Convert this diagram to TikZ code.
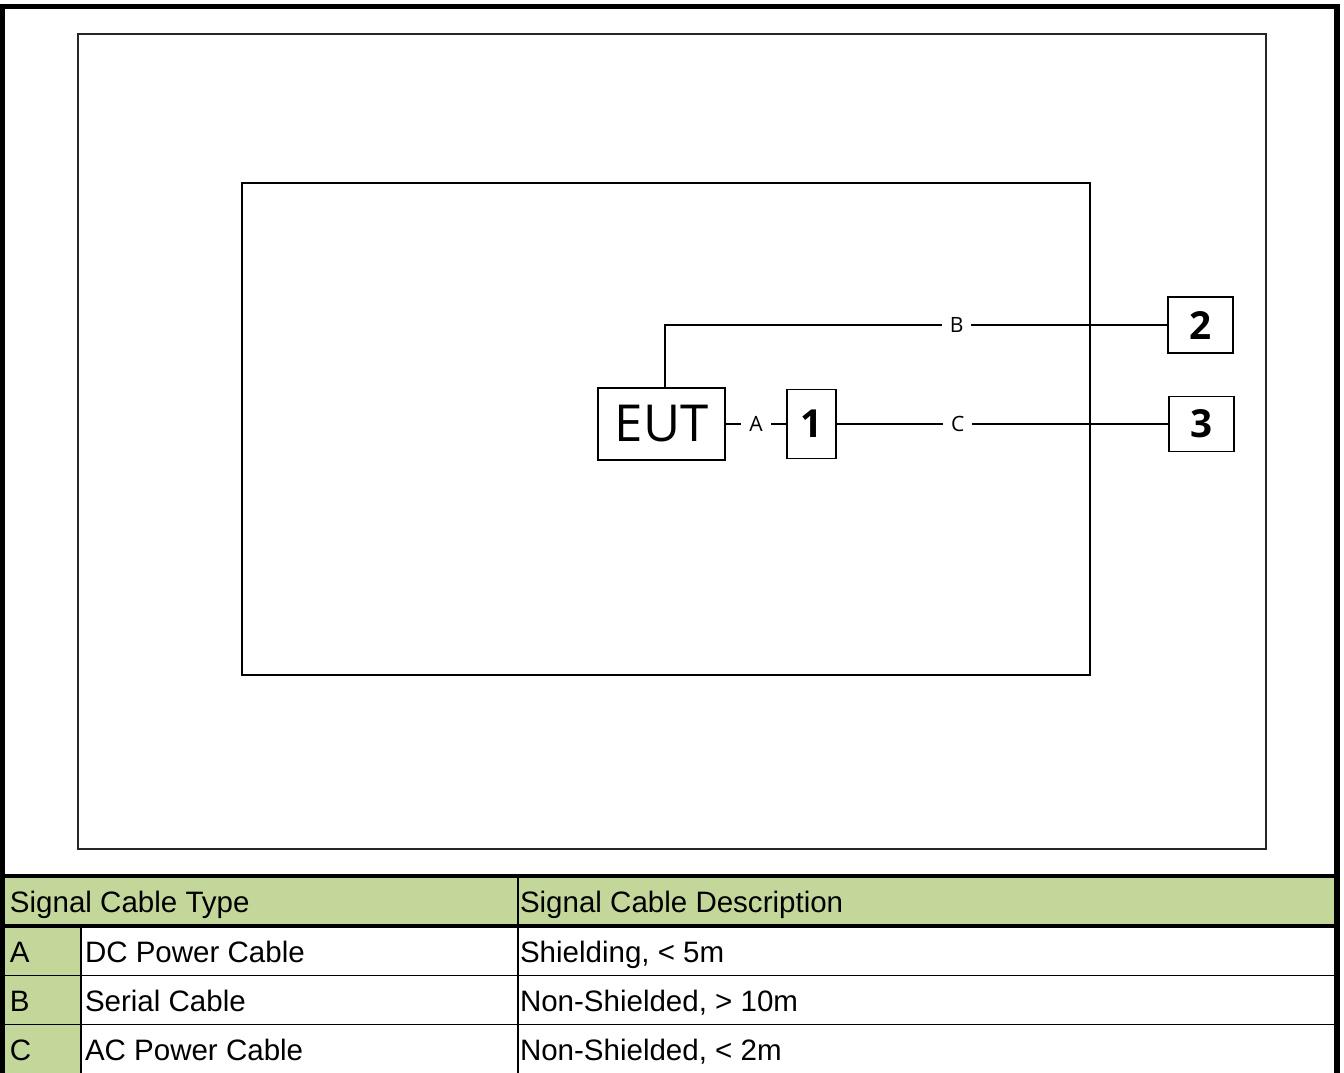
\documentclass[tikz,border=0pt]{standalone}
\usepackage{fontspec}
\setmainfont{Liberation Sans}
\newfontfamily\diagfont{Open Sans}
\usepackage{xcolor}
\usepackage{tikz}
\usetikzlibrary{arrows.meta}

\definecolor{hdrgreen}{HTML}{C4D79B}

\begin{document}
\begin{tikzpicture}[x=0.02cm, y=-0.02cm,
    every node/.style={inner sep=0pt, outer sep=0pt},
    devbox/.style={draw, line width=0.8pt, fill=white,
      font=\diagfont\fontsize{22}{26}\selectfont\bfseries},
    cablelbl/.style={fill=white, inner xsep=4.5pt,
      font=\diagfont\fontsize{12}{14}\selectfont},
    cell/.style={anchor=base west, font=\fontsize{16.8}{20}\selectfont}]
  \useasboundingbox (0,0) rectangle (1344,1072);

  % table fills
  \fill[hdrgreen] (4,876) rectangle (1336,926);
  \fill[hdrgreen] (4,926) rectangle (81,1080);

  % outer frame, test site, room
  \draw[line width=3.4pt] (2.5,1080) -- (2.5,6.5) -- (1336.5,6.5) -- (1336.5,1080);
  \draw[line width=0.8pt, black!85] (78,34) rectangle (1266,849);
  \draw[line width=0.7pt] (242,183) rectangle (1090,675);

  % equipment
  \node[devbox, minimum width=2.54cm, minimum height=1.44cm,
        font=\diagfont\fontsize{29}{34}\selectfont] (eut) at (661.5,424) {EUT};
  \node[devbox, minimum width=0.98cm, minimum height=1.38cm] (aux1) at (811.5,424) {1};
  \node[devbox, minimum width=1.3cm, minimum height=1.12cm] (aux2) at (1200.5,325) {2};
  \node[devbox, minimum width=1.3cm, minimum height=1.1cm] (aux3) at (1201.5,424) {3};

  % cables
  \draw[line width=0.7pt] (eut.east) -- node[cablelbl] {A} (aux1.west);
  \draw[line width=0.7pt] (aux1.east) -- node[cablelbl, pos=0.366] {C} (aux3.west);
  \draw[line width=0.7pt] ([xshift=0.07cm]eut.north) |- node[cablelbl, pos=0.79] {B} (aux2.west);

  % table grid
  \draw[line width=2.3pt] (4,876) -- (1336,876);
  \draw[line width=2.3pt] (4,926) -- (1336,926);
  \draw[line width=0.5pt] (4,975.5) -- (1336,975.5);
  \draw[line width=0.5pt] (4,1024) -- (1336,1024);
  \draw[line width=1pt] (81,926) -- (81,1080);
  \draw[line width=1pt] (518,876) -- (518,1080);

  % table texts
  \node[cell] (hdtype) at (10,912) {Signal Cable Type};
  \node[cell] (hddesc) at (520,912) {Signal Cable Description};
  \foreach \yb/\id/\kind/\desc in {962/A/DC Power Cable/{Shielding, < 5m},
      1011/B/Serial Cable/{Non-Shielded, > 10m},
      1060/C/AC Power Cable/{Non-Shielded, < 2m}} {
    \node[cell] (id\id) at (10,\yb) {\id};
    \node[cell] (kind\id) at (85,\yb) {\kind};
    \node[cell] (desc\id) at (520,\yb) {\desc};
  }
\end{tikzpicture}
\end{document}
